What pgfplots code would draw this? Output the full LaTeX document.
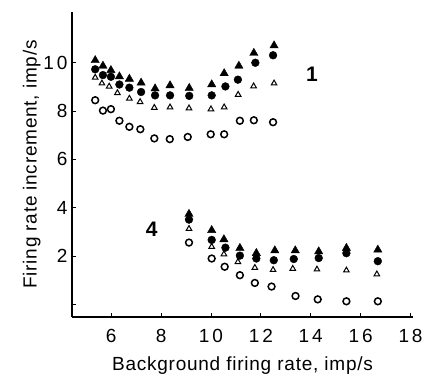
\documentclass[border=0pt]{standalone}
\usepackage{fontspec}
\setmainfont{Liberation Sans}
\newfontfamily\lblfont[LetterSpace=4]{Liberation Sans}
\newfontfamily\tickfont[LetterSpace=15]{Liberation Sans}
\usepackage{pgfplots}
\usepackage{pgfplotstable}
\pgfplotsset{compat=1.18}

% filled triangles
\pgfplotstableread{
x y
5.36 10.10
5.67 9.87
5.99 9.69
6.33 9.43
6.73 9.33
7.20 9.17
7.76 8.93
8.36 9.06
9.13 8.95
10.03 9.10
10.53 9.56
11.12 9.87
11.72 10.40
12.53 10.71
9.12 3.74
10.03 3.07
10.52 2.69
11.16 2.33
11.82 2.12
12.56 2.23
13.38 2.23
14.32 2.19
15.43 2.33
16.69 2.26
}\ftri
% filled circles
\pgfplotstableread{
x y
5.36 9.73
5.67 9.49
5.99 9.42
6.33 9.10
6.73 8.97
7.20 8.79
7.76 8.65
8.36 8.65
9.13 8.63
10.03 8.65
10.58 9.02
11.08 9.30
11.78 10.00
12.49 10.31
9.12 3.51
10.03 2.67
10.58 2.35
11.16 2.02
11.82 1.90
12.52 1.83
13.32 1.88
14.32 1.92
15.43 2.12
16.69 1.79
}\fcirc
% open triangles
\pgfplotstableread{
x y
5.36 9.39
5.63 9.15
5.92 9.02
6.25 8.75
6.73 8.52
7.16 8.38
7.73 8.14
8.36 8.16
9.12 8.12
10.00 8.08
10.53 8.16
11.09 8.68
11.71 9.03
12.53 9.15
9.12 3.13
10.03 2.39
10.52 2.08
11.08 1.76
11.76 1.52
12.49 1.43
13.28 1.48
14.25 1.45
15.43 1.41
16.65 1.25
}\otri
% open circles
\pgfplotstableread{
x y
5.36 8.45
5.67 8.02
5.99 8.08
6.33 7.60
6.73 7.35
7.17 7.25
7.73 6.87
8.35 6.84
9.07 6.93
9.99 7.04
10.53 7.04
11.16 7.60
11.72 7.62
12.49 7.54
9.12 2.56
10.03 1.90
10.55 1.56
11.16 1.21
11.76 0.89
12.43 0.74
13.39 0.35
14.28 0.21
15.43 0.13
16.69 0.13
}\ocirc

\begin{document}
\begin{tikzpicture}
\begin{axis}[
  name=ax,
  scale only axis,
  width=341pt, height=305pt,
  xmin=4.43, xmax=18.1,
  ymin=-0.52, ymax=12.1,
  axis lines=left,
  axis line style={-, line width=1.2pt},
  tick align=inside,
  major tick length=4pt,
  tick style={line width=0.8pt, black},
  xtick={6,8,10,12,14,16,18},
  ytick={0,2,4,6,8,10},
  yticklabels={,2,4,6,8,10},
  /pgf/number format/assume math mode=true,
  ticklabel style={font=\tickfont\fontsize{19}{22}\selectfont},
  xticklabel style={yshift=-9pt},
  yticklabel style={xshift=-1pt},
  xlabel={Background firing rate, imp/s},
  ylabel={Firing rate increment, imp/s},
  label style={font=\lblfont\fontsize{19}{23}\selectfont},
  xlabel style={yshift=-7pt},
  ylabel style={yshift=-4pt},
  clip=false,
]
\addplot[only marks, mark=triangle*, mark size=4.8pt, black] table {\ftri};
\addplot[only marks, mark=*, mark size=3.9pt, black] table {\fcirc};
\addplot[only marks, mark=triangle, mark size=3.2pt, line width=1pt, black] table {\otri};
\addplot[only marks, mark=o, mark size=3.4pt, line width=1.5pt, black] table {\ocirc};
\node[font=\bfseries\fontsize{21}{24}\selectfont] at (axis cs:14.05,9.53) {1};
\node[font=\bfseries\fontsize{21}{24}\selectfont] at (axis cs:7.63,3.13) {4};
\end{axis}
\pgfresetboundingbox
\path ([shift={(-72pt,-59pt)}]ax.south west) rectangle ([shift={(14pt,12pt)}]ax.north east);
\end{tikzpicture}
\end{document}
